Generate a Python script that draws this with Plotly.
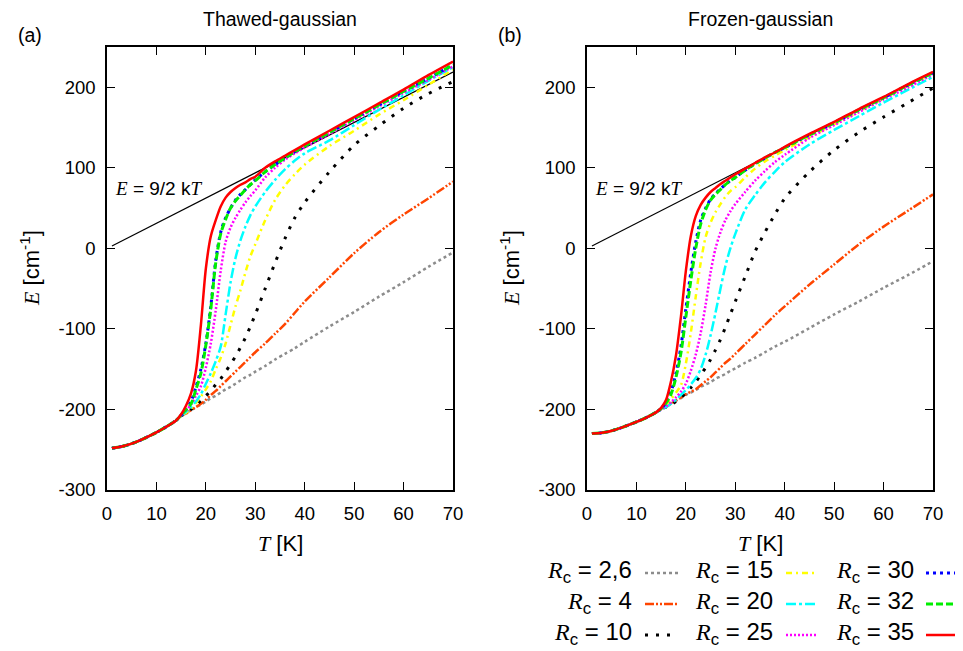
import plotly.graph_objects as go

# temperatures (K) shared by every curve
T = [1, 3, 5, 7, 10, 12, 14, 15, 16, 17, 18, 19, 20, 21, 22, 23, 24, 25, 26,
     27, 28, 29, 30, 32, 34, 36, 38, 40, 45, 50, 55, 60, 65, 70]

# low-T part common to all curves (T = 1..14)
low_thawed = [-248, -246, -242.5, -237.5, -228.5, -221.5, -213.5]
low_frozen = [-230, -229, -226.5, -222.5, -215.5, -210, -203.5]

# Thawed-gaussian, values from T = 15 on
thawed = {
    '2,6': [-208, -204, -201, -197, -194, -190, -186, -183, -179, -175, -172, -168, -164, -160, -157, -153,
            -146, -138, -131, -124, -116, -97, -79, -60, -42, -23, -5],
    '4': [-208, -205, -201, -197, -193, -188, -182, -177, -171, -165, -159, -153, -147, -141, -135, -129,
          -118, -106, -94, -80, -66, -36, -6, 20, 42, 62, 83],
    '10': [-208, -205, -200, -195, -189, -183, -177, -169, -162, -153, -144, -134, -123, -111, -97, -82,
           -50, -18, 12, 38, 57, 95, 128, 152, 174, 192, 207],
    '15': [-208, -204, -199, -192, -184, -175, -165, -150, -136, -118, -95, -72, -52, -30, -10, 5,
           35, 60, 78, 92, 104, 127, 146, 166, 184, 203, 222],
    '20': [-208, -203, -197, -190, -181, -168, -155, -140, -122, -82, -42, -12, 10, 27, 41, 52,
           70, 85, 98, 109, 118, 134, 153, 172, 190, 208, 225],
    '25': [-207, -201, -194, -183, -171, -148, -118, -77, -28, 8, 26, 38, 48, 57, 65, 72,
           88, 100, 110, 118, 125, 142, 159, 176, 193, 209, 226],
    '30': [-207, -200, -190, -172, -150, -118, -72, -15, 20, 38, 50, 60, 67, 73, 79, 85,
           95, 104, 112, 120, 127, 144, 161, 178, 195, 211, 228],
    '32': [-207, -200, -193, -175, -155, -120, -75, -18, 18, 36, 50, 59, 66, 73, 79, 84,
           95, 104, 112, 120, 127, 144, 161, 178, 195, 211, 228],
    '35': [-206, -195, -180, -152, -95, -25, 15, 35, 52, 63, 70, 75, 79, 82, 86, 89,
           100, 108, 115, 122, 129, 146, 163, 180, 197, 215, 232],
}

# Frozen-gaussian, values from T = 15 on
frozen = {
    '2,6': [-199, -196, -192, -189, -186, -182, -179, -176, -172, -169, -166, -162, -159, -156, -152, -149,
            -142, -136, -129, -122, -116, -99, -82, -66, -49, -33, -16],
    '4': [-199, -197, -193, -189, -185, -181, -178, -175, -170, -165, -160, -154, -148, -142, -137, -131,
          -119, -107, -95, -83, -72, -45, -20, 5, 27, 47, 67],
    '10': [-199, -197, -194, -190, -185, -180, -173, -166, -157, -148, -138, -126, -113, -98, -82, -66,
           -35, -4, 20, 42, 62, 95, 122, 144, 163, 181, 199],
    '15': [-199, -194, -187, -179, -170, -143, -105, -60, -18, 14, 32, 45, 55, 64, 71, 76,
           88, 99, 108, 115, 122, 138, 154, 170, 186, 202, 217],
    '20': [-200, -197, -193, -188, -182, -176, -169, -161, -150, -132, -108, -80, -50, -22, 0, 18,
           48, 66, 82, 95, 107, 129, 147, 164, 181, 197, 213],
    '25': [-200, -196, -191, -185, -178, -168, -152, -132, -105, -70, -30, 0, 20, 35, 46, 55,
           70, 84, 96, 107, 116, 137, 153, 169, 185, 200, 216],
    '30': [-199, -191, -178, -155, -122, -75, -30, 8, 35, 50, 61, 68, 74, 79, 84, 88,
           97, 105, 112, 119, 125, 141, 156, 172, 187, 203, 218],
    '32': [-199, -192, -181, -160, -130, -85, -40, 0, 30, 48, 60, 67, 73, 79, 84, 88,
           97, 105, 112, 119, 125, 141, 156, 172, 187, 203, 218],
    '35': [-198, -188, -165, -133, -85, -28, 15, 40, 54, 63, 70, 75, 80, 84, 88, 92,
           99, 106, 113, 119, 126, 142, 157, 173, 188, 204, 219],
}

# E = 9/2 kT reference line (end points)
kT_T = [1, 70]
kT_E = [3, 219]

y_ticks = [-300, -200, -100, 0, 100, 200]
y_ticktext = ['-300', '-200', '-100', '0', '100', '200']

rc_labels = ['2,6', '4', '10', '15', '20', '25', '30', '32', '35']
styles = {
    '2,6': dict(color='#8c8c8c', width=2.5, dash='3px,3px'),
    '4': dict(color='#ff4500', width=2.5, dash='9px,2px,2px,2px,2px,2px'),
    '10': dict(color='black', width=3, dash='3px,8px'),
    '15': dict(color='#ffff00', width=2.5, dash='6px,4px,2px,4px'),
    '20': dict(color='#00ffff', width=2.5, dash='10px,3px,3px,3px'),
    '25': dict(color='#ff00ff', width=2.5, dash='2px,2px'),
    '30': dict(color='#0000ff', width=3, dash='3px,4px'),
    '32': dict(color='#00ee00', width=3, dash='7px,3px'),
    '35': dict(color='#ff0000', width=2.5, dash='solid'),
}

# page body has an 8px margin, so the figure is a bit smaller and offset
OFF = 8
W, H = 963 - OFF, 651 - OFF
serif = 'Liberation Serif'
sans = 'Liberation Sans'


def px(x):
    return (x - OFF) / W


def py(y):
    return 1 - (y - OFF) / H


fig = go.Figure()

for xa, ya, low, data in [('x', 'y', low_thawed, thawed), ('x2', 'y2', low_frozen, frozen)]:
    fig.add_trace(go.Scatter(x=kT_T, y=kT_E, mode='lines', xaxis=xa, yaxis=ya,
                             line=dict(color='black', width=1.2), showlegend=False))
    for rc in rc_labels:
        fig.add_trace(go.Scatter(x=T, y=low + data[rc], mode='lines', xaxis=xa, yaxis=ya,
                                 line=dict(shape='spline', smoothing=0.8, **styles[rc]),
                                 name='R_c = ' + rc, showlegend=False))

axis_common = dict(showline=True, linecolor='black', linewidth=1.5, mirror='ticks',
                   ticks='inside', ticklen=8, tickwidth=1, tickcolor='black',
                   showgrid=False, zeroline=False, automargin=False,
                   tickfont=dict(family=sans, size=18.5, color='black'))

ydom = [py(490), py(47)]
fig.update_layout(
    width=W, height=H,
    margin=dict(l=0, r=0, t=0, b=0),
    paper_bgcolor='white', plot_bgcolor='white',
    font=dict(family=sans, color='black'),
    xaxis=dict(domain=[px(107), px(453)], range=[0, 70], dtick=10, anchor='y',
               ticklabelstandoff=6, **axis_common),
    yaxis=dict(domain=ydom, range=[-300, 250], tickvals=y_ticks, ticktext=y_ticktext,
               anchor='x', ticklabelstandoff=6, **axis_common),
    xaxis2=dict(domain=[px(587), px(933)], range=[0, 70], dtick=10, anchor='y2',
                ticklabelstandoff=6, **axis_common),
    yaxis2=dict(domain=ydom, range=[-300, 250], tickvals=y_ticks, ticktext=y_ticktext,
                anchor='x2', ticklabelstandoff=6, **axis_common),
    showlegend=False,
)

ann = []


def text(x, y, s, size, xanchor='center', angle=0):
    ann.append(dict(x=px(x), y=py(y), xref='paper', yref='paper', text=s, showarrow=False,
                    xanchor=xanchor, yanchor='middle', textangle=angle,
                    font=dict(family=sans, size=size, color='black')))


E_it = "<span style='font-family:%s'><i>E</i></span>" % serif
T_it = "<span style='font-family:%s'><i>T</i></span>" % serif
R_it = "<span style='font-family:%s'><i>R</i></span>" % serif

for x0, x1, title, tag, tagx in [(107, 453, 'Thawed-gaussian', '(a)', 30),
                                  (587, 933, 'Frozen-gaussian', '(b)', 510)]:
    xc = (x0 + x1) / 2
    text(xc, 19, title, 19.5)
    text(tagx, 35, tag, 19.5)
    text(xc, 543, T_it + ' [K]', 22)
    text(x0 - 77, 268, E_it + ' [cm<sup>-1</sup>]', 22, angle=-90)
    text(x0 + 6, 188, E_it + ' = 9/2 k' + T_it, 19, xanchor='left')

# legend: three columns, label on the left of its line sample
shapes = []
cols = [(634, 645, 678), (775, 786, 818), (916, 926, 962)]
rows = [571, 602, 633]
for i, rc in enumerate(rc_labels):
    c, r = divmod(i, 3)
    tx, l0, l1 = cols[c]
    yy = rows[r]
    text(tx, yy, R_it + '<sub>c</sub> = ' + rc, 24, xanchor='right')
    st = styles[rc]
    shapes.append(dict(type='line', xref='paper', yref='paper',
                       x0=px(l0), x1=px(l1), y0=py(yy + 2), y1=py(yy + 2),
                       line=dict(color=st['color'], width=st['width'], dash=st['dash'])))

fig.update_layout(annotations=ann, shapes=shapes)

fig.write_html("out.html")
